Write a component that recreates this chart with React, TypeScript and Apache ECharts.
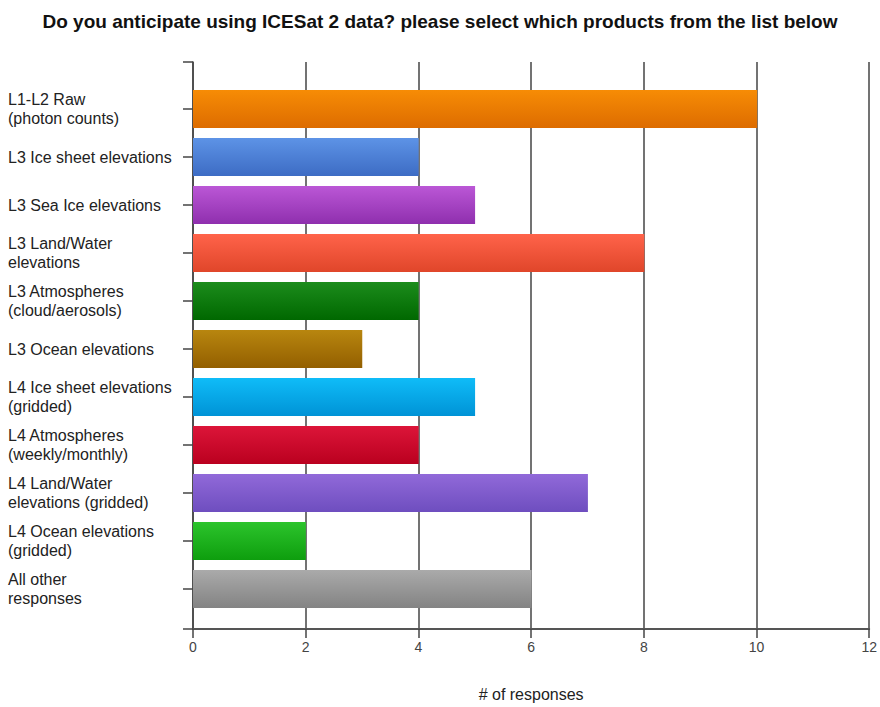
import React, { useEffect, useRef } from "react";
import * as echarts from "echarts";

const categories = [
  "L1-L2 Raw\n(photon counts)",
  "L3 Ice sheet elevations",
  "L3 Sea Ice elevations",
  "L3 Land/Water\nelevations",
  "L3 Atmospheres\n(cloud/aerosols)",
  "L3 Ocean elevations",
  "L4 Ice sheet elevations\n(gridded)",
  "L4 Atmospheres\n(weekly/monthly)",
  "L4 Land/Water\nelevations (gridded)",
  "L4 Ocean elevations\n(gridded)",
  "All other\nresponses",
];
const responses = [10, 4, 5, 8, 4, 3, 5, 4, 7, 2, 6];
const topColors = [
  "#f78c05", "#5d93e6", "#bb57d6", "#ff634a", "#1c8c1c", "#b8860f",
  "#0fbcf8", "#dc1539", "#9169d9", "#2cc42c", "#aaaaaa",
];
const bottomColors = [
  "#dd6c00", "#3d6cc4", "#8f2fae", "#e0462a", "#006800", "#935f00",
  "#0093d6", "#ba001f", "#6e4ebf", "#0e9e0e", "#838383",
];
const title = "Do you anticipate using ICESat 2 data? please select which products from the list below";
const axisName = "# of responses";

export default function App() {
  const ref = useRef<HTMLDivElement>(null);
  useEffect(() => {
    if (!ref.current) return;
    const chart = echarts.init(ref.current, null, { renderer: "svg" });
    const font = "'Liberation Sans', Arial, sans-serif";
    chart.setOption({
      animation: false,
      backgroundColor: "#ffffff",
      textStyle: { fontFamily: font },
      title: {
        text: title,
        left: "center",
        top: 7,
        textStyle: { fontSize: 19, fontWeight: "bold", color: "#111", fontFamily: font },
      },
      grid: [
        { left: 193, right: 10, top: 62, bottom: 71 },
        { left: 193, right: 10, top: 85, bottom: 94 },
      ],
      xAxis: [
        {
          gridIndex: 0,
          type: "value",
          min: 0,
          max: 12,
          interval: 2,
          name: axisName,
          nameLocation: "middle",
          nameGap: 57,
          nameTextStyle: { fontSize: 16, color: "#222", fontFamily: font },
          axisLine: { show: true, lineStyle: { color: "#555", width: 2 } },
          axisTick: { show: true, length: 9, lineStyle: { color: "#444", width: 1.5 } },
          axisLabel: { fontSize: 14, color: "#444", margin: 11, fontFamily: font },
          splitLine: { show: true, lineStyle: { color: "#444", width: 1.5 } },
        },
        {
          gridIndex: 1,
          type: "value",
          min: 0,
          max: 12,
          show: false,
        },
      ],
      yAxis: [
        {
          gridIndex: 0,
          type: "value",
          min: 0,
          max: 1,
          interval: 1,
          axisLine: { show: true, lineStyle: { color: "#444", width: 1.5 } },
          axisTick: { show: true, length: 10, lineStyle: { color: "#444", width: 1.5 } },
          axisLabel: { show: false },
          splitLine: { show: false },
        },
        {
          gridIndex: 1,
          type: "category",
          data: categories,
          inverse: true,
          axisLine: { show: false },
          axisTick: { show: true, alignWithLabel: true, length: 10, lineStyle: { color: "#444", width: 1.5 } },
          axisLabel: {
            align: "left",
            margin: 185,
            fontSize: 16,
            lineHeight: 19,
            color: "#222",
            fontFamily: font,
          },
          splitLine: { show: false },
        },
      ],
      series: [
        {
          type: "bar",
          xAxisIndex: 1,
          yAxisIndex: 1,
          barCategoryGap: "21%",
          data: responses.map((v, i) => ({
            value: v,
            itemStyle: {
              color: new echarts.graphic.LinearGradient(0, 0, 0, 1, [
                { offset: 0, color: topColors[i] },
                { offset: 1, color: bottomColors[i] },
              ]),
            },
          })),
        },
      ],
    });
    return () => chart.dispose();
  }, []);
  return (
    <div
      ref={ref}
      style={{ position: "fixed", left: 0, top: 0, width: 880, height: 707 }}
    />
  );
}
